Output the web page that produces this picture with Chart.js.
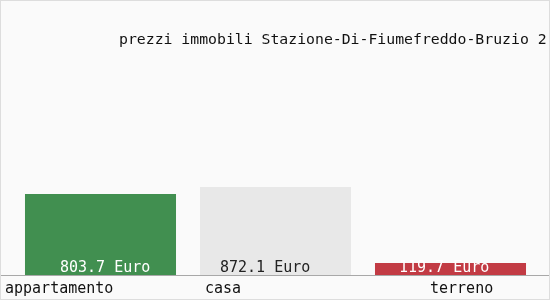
<!DOCTYPE html>
<html>
<head>
<meta charset="utf-8">
<script src="https://cdn.jsdelivr.net/npm/chart.js@4/dist/chart.umd.min.js"></script>
<style>
html,body{margin:0;padding:0;background:#fafafa;}
#wrap{width:550px;height:300px;position:relative;}
</style>
</head>
<body>
<div id="wrap"><canvas id="c" width="550" height="300"></canvas></div>
<script>
const titleText = "prezzi immobili Stazione-Di-Fiumefreddo-Bruzio 2";
const categories = ["appartamento", "casa", "terreno"];
const values = [803.7, 872.1, 119.7];
const unit = " Euro";
const barColors = ["#418f50", "#e8e8e8", "#c23b44"];
const valueTextColors = ["#ffffff", "#222222", "#ffffff"];
// style: left-edge offsets of texts relative to bar centre (px)
const valueLabelOffsets = [-40.5, -55.5, -51.5];
const catLabelOffsets = [-95.5, -70.5, -20.5];

const FONT = '"DejaVu Sans Mono", "Liberation Mono", monospace';

const decor = {
  id: 'decor',
  beforeDraw(chart) {
    const ctx = chart.ctx;
    ctx.save();
    ctx.fillStyle = '#fafafa';
    ctx.fillRect(0, 0, chart.width, chart.height);
    ctx.restore();
  },
  afterDatasetsDraw(chart) {
    const ctx = chart.ctx;
    const area = chart.chartArea;
    const meta = chart.getDatasetMeta(0);
    const xs = chart.scales.x;
    ctx.save();
    // value labels
    ctx.font = '15px ' + FONT;
    ctx.textAlign = 'left';
    ctx.textBaseline = 'middle';
    meta.data.forEach((bar, i) => {
      ctx.fillStyle = valueTextColors[i];
      ctx.fillText(values[i].toFixed(1) + unit, bar.x + valueLabelOffsets[i], area.bottom - 6.5);
    });
    // axis line
    ctx.strokeStyle = '#a8a8a8';
    ctx.lineWidth = 1;
    ctx.beginPath();
    ctx.moveTo(0, area.bottom + 0.5);
    ctx.lineTo(chart.width, area.bottom + 0.5);
    ctx.stroke();
    // category labels
    ctx.fillStyle = '#111111';
    categories.forEach((c, i) => {
      const x = xs.getPixelForValue(i);
      ctx.fillText(c, x + catLabelOffsets[i], area.bottom + 14);
    });
    // title
    ctx.font = '14.8px ' + FONT;
    ctx.fillText(titleText, 119, 40);
    // border
    ctx.strokeStyle = '#dddddd';
    ctx.strokeRect(0.5, 0.5, chart.width - 1, chart.height - 1);
    ctx.restore();
  }
};

new Chart(document.getElementById('c'), {
  type: 'bar',
  data: {
    labels: categories,
    datasets: [{
      data: values,
      backgroundColor: barColors,
      borderWidth: 0,
      barPercentage: 0.863,
      categoryPercentage: 1.0
    }]
  },
  options: {
    responsive: false,
    animation: false,
    layout: { padding: { left: 13, right: 12, top: 98.6, bottom: 25 } },
    plugins: { legend: { display: false }, tooltip: { enabled: false }, title: { display: false } },
    scales: {
      x: { display: false },
      y: { display: false, min: 0, max: 1750 }
    }
  },
  plugins: [decor]
});
</script>
</body>
</html>
